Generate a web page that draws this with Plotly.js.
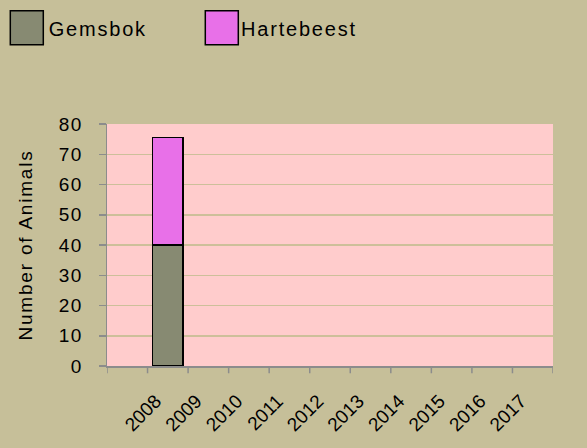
<!DOCTYPE html>
<html>
<head>
<meta charset="utf-8">
<script src="https://cdn.plot.ly/plotly-3.0.1.min.js"></script>
<style>html,body{margin:0;padding:0;background:#c6bf99;}#chart{width:587px;height:448px;}
#chart .ytick text{letter-spacing:1.4px;}
#chart .g-ytitle text{letter-spacing:1.8px;}
#chart .annotation-text{letter-spacing:1.8px;}</style>
</head>
<body>
<div id="chart"></div>
<script>
var categories = [" ", "2008", "2009", "2010", "2011", "2012", "2013", "2014", "2015", "2016", "2017"];
var gemsbok = [null, 40, null, null, null, null, null, null, null, null, null];
var hartebeest = [null, 35.5, null, null, null, null, null, null, null, null, null];
var seriesNames = ["Gemsbok", "Hartebeest"];
var seriesColors = ["#878a72", "#e870e8"];
var yTicks = [0, 10, 20, 30, 40, 50, 60, 70, 80];

var font = "Liberation Sans, Arial, sans-serif";
var idx = categories.map(function(c, i){ return i; });

var traces = [gemsbok, hartebeest].map(function(vals, k){
  return {
    type: "bar", x: idx, y: vals, name: seriesNames[k],
    marker: {color: seriesColors[k], line: {color: "#000000", width: 1.5}},
    showlegend: false, hoverinfo: "skip"
  };
});

var shapes = [];
var annotations = [];
var legendX = [10, 205];
seriesNames.forEach(function(n, k){
  shapes.push({type: "rect", xref: "paper", yref: "paper",
    x0: (legendX[k] - 106.7) / 446, x1: (legendX[k] + 33 - 106.7) / 446,
    y0: (366 - 44) / 242.5, y1: (366 - 10) / 242.5,
    fillcolor: seriesColors[k], line: {color: "#000", width: 1.5}});
  annotations.push({xref: "paper", yref: "paper",
    x: (legendX[k] + 43 - 106.7) / 446, y: (366 - 28) / 242.5,
    xanchor: "left", yanchor: "middle", showarrow: false, text: n,
    font: {family: font, size: 20, color: "#000"}});
});

var layout = {
  width: 587, height: 448,
  paper_bgcolor: "#c6bf99", plot_bgcolor: "#ffcccc",
  margin: {l: 106.7, r: 34.3, t: 123.5, b: 82, pad: 0},
  barmode: "stack", bargap: 0.25,
  font: {family: font, size: 19, color: "#000"},
  xaxis: {
    type: "linear", range: [-0.5, categories.length - 0.5],
    tickmode: "array", tickvals: idx, ticktext: categories.map(function(c){ return c.trim(); }),
    tickangle: -45, showgrid: false, zeroline: false,
    showline: true, linecolor: "#8c8c8c", linewidth: 1.5,
    ticks: "", tickfont: {family: font, size: 19}, ticklabelstandoff: 15, ticklabelshift: -12,
    fixedrange: true
  },
  yaxis: {
    range: [0, 80], tickmode: "array", tickvals: yTicks,
    showgrid: true, gridcolor: "#cdbf9a", gridwidth: 1.5,
    zeroline: false, showline: true, linecolor: "#8c8c8c", linewidth: 1.5,
    ticks: "outside", ticklen: 7, tickcolor: "#8c8c8c", tickwidth: 1.5,
    tickfont: {family: font, size: 19}, ticklabelstandoff: 12,
    title: {text: "Number of Animals", font: {family: font, size: 19}, standoff: 24},
    fixedrange: true
  },
  shapes: shapes.concat(idx.concat([categories.length]).map(function(i){
    return {type: "line", xref: "x", yref: "paper", x0: i - 0.5, x1: i - 0.5, y0: 0, y1: -0.03,
      line: {color: "#8c8c8c", width: 1.5}};
  })),
  annotations: annotations
};

Plotly.newPlot("chart", traces, layout, {displayModeBar: false, staticPlot: true});
</script>
</body>
</html>
